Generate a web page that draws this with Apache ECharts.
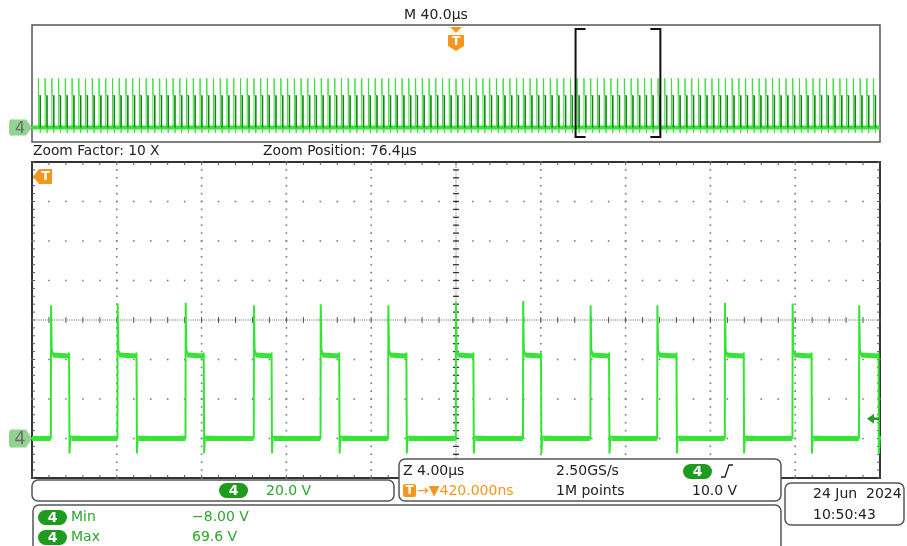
<!DOCTYPE html>
<html><head><meta charset="utf-8">
<script src="https://cdn.jsdelivr.net/npm/echarts@6/dist/echarts.min.js"></script>
<style>html,body{margin:0;padding:0;background:#fff}#c{width:907px;height:546px}</style>
</head><body><div id="c"></div>
<script>
// ---------- data ----------
const timebaseLabel = 'M 40.0µs';
const zoomFactorLabel = 'Zoom Factor: 10 X';
const zoomPositionLabel = 'Zoom Position: 76.4µs';
const zoomPositionUs = 76.4;
const zoomHalfWidthUs = 20;                       // 4 µs/div x 10 div
const mainTimeDivsUs = [-20,-16,-12,-8,-4,0,4,8,12,16,20];
const overviewTimeDivsUs = [-200,-160,-120,-80,-40,0,40,80,120,160,200];
const voltDivs = [-20,0,20,40,60,80,100,120,140]; // 20 V/div
const triggerLevelV = 10;

// zoomed window: pulse edges (µs relative to zoom position) and spike peaks (V)
const mainRiseUs = [-19.10,-15.96,-12.75,-9.53,-6.38,-3.19,0.00,3.17,6.35,9.50,12.69,15.88,19.02];
const mainFallUs = [-18.24,-15.06,-11.89,-8.69,-5.50,-2.33,0.83,4.02,7.23,10.41,13.58,16.78,19.94];
const mainPeakV  = [67.5,68.3,68.7,67.5,68.0,67.5,69.0,69.6,67.5,67.5,68.7,68.3,67.5];
const lowV = 0, postSpikeV = 45, plateauV = 41.8, fallBumpV = 43.5, undershootV = -7.6;

// overview: pulse train measured period / width
const overviewPeriodUs = 3.177;
const overviewPulseWidthUs = 0.87;
const overviewPeakV = 67;

// readouts
const scaleText = '20.0 V';
const horizText = 'Z 4.00µs', rateText = '2.50GS/s', trigText = '420.000ns', pointsText = '1M points', trigLevelText = '10.0 V';
const minText = '−8.00 V', maxText = '69.6 V';
const dateText = '24 Jun  2024', timeText = '10:50:43';

// ---------- build series ----------
const tStart = mainTimeDivsUs[0], tEnd = mainTimeDivsUs[mainTimeDivsUs.length - 1];
const mainTrace = [[tStart, lowV]];
const mainBand = [];
let lastLowStart = tStart;
mainRiseUs.forEach((r, i) => {
  const f = mainFallUs[i];
  mainTrace.push([r - 0.01, lowV], [r, mainPeakV[i]], [r + 0.03, postSpikeV], [r + 0.12, plateauV],
                 [f - 0.03, plateauV], [f - 0.01, fallBumpV], [f + 0.01, undershootV], [f + 0.05, lowV + 1], [f + 0.12, lowV]);
  mainBand.push([lastLowStart, lowV], [r - 0.02, lowV], [r, null], [r + 0.08, plateauV + 0.5], [f - 0.02, plateauV], [f, null]);
  lastLowStart = Math.min(f + 0.1, tEnd);
});
mainTrace.push([tEnd, lowV]);
mainBand.push([lastLowStart, lowV], [tEnd, lowV]);

const ovStart = overviewTimeDivsUs[0], ovEnd = overviewTimeDivsUs[overviewTimeDivsUs.length - 1];
const ovTrace = [[ovStart, lowV]];
const ovFall = [];
const kMin = Math.ceil(ovStart / overviewPeriodUs);
const kMax = Math.floor((ovEnd - overviewPulseWidthUs) / overviewPeriodUs);
for (let k = kMin; k <= kMax; k++) {
  const r = k * overviewPeriodUs, f = r + overviewPulseWidthUs;
  ovTrace.push([r, lowV], [r, overviewPeakV], [r + 0.05, postSpikeV], [f, plateauV], [f, undershootV], [f + 0.1, lowV]);
  ovFall.push([f, plateauV + 2], [f, lowV], [f, null]);
}
ovTrace.push([ovEnd, lowV]);
const ovBase = [[ovStart, lowV], [ovEnd, lowV]];

const GREEN = '#36e436', DARKGREEN = '#1c7d1c', PILL = '#1f9b1f', TXTGREEN = '#2aa62a', ORANGE = '#f5961e';
const FONT = '"DejaVu Sans", sans-serif';

function graticule(params, api) {
  const ch = [];
  const P = (t, v) => api.coord([t, v]);
  const dot = (p) => ch.push({type: 'rect', shape: {x: p[0] - 0.8, y: p[1] - 0.8, width: 1.6, height: 1.6}, style: {fill: '#7a7a7a'}});
  const seg = (x1, y1, x2, y2, c, w) => ch.push({type: 'line', shape: {x1, y1, x2, y2}, style: {stroke: c || '#555', lineWidth: w || 1}});
  const t0 = mainTimeDivsUs[0], t1 = mainTimeDivsUs[mainTimeDivsUs.length - 1];
  const v0 = voltDivs[0], v1 = voltDivs[voltDivs.length - 1];
  const minorT = (mainTimeDivsUs[1] - mainTimeDivsUs[0]) / 5;
  const minorV = (voltDivs[1] - voltDivs[0]) / 5;
  const cT = 0, cV = 60;
  mainTimeDivsUs.slice(1, -1).forEach(t => { if (t === cT) return; for (let v = v0; v <= v1 + 1e-6; v += minorV) dot(P(t, v)); });
  voltDivs.slice(1, -1).forEach(v => { if (v === cV) return; for (let t = t0; t <= t1 + 1e-6; t += minorT) dot(P(t, v)); });
  // center cross
  const a = P(t0, cV), b = P(t1, cV);
  ch.push({type: 'line', shape: {x1: a[0], y1: a[1], x2: b[0], y2: b[1]}, style: {stroke: '#666', lineWidth: 1, lineDash: [1, 1.2]}});
  const c = P(cT, v0), d = P(cT, v1);
  ch.push({type: 'line', shape: {x1: c[0], y1: c[1], x2: d[0], y2: d[1]}, style: {stroke: '#666', lineWidth: 1, lineDash: [1, 1.2]}});
  for (let t = t0; t <= t1 + 1e-6; t += minorT) {
    const p = P(t, cV); seg(p[0], p[1] - 3, p[0], p[1] + 3);
    const q = P(t, v1); seg(q[0], q[1], q[0], q[1] + 3);
    const r = P(t, v0); seg(r[0], r[1], r[0], r[1] - 3);
  }
  for (let v = v0; v <= v1 + 1e-6; v += minorV) {
    const p = P(cT, v); seg(p[0] - 3, p[1], p[0] + 3, p[1], '#333', 1.3);
    const q = P(t0, v); seg(q[0], q[1], q[0] + 3, q[1]);
    const r = P(t1, v); seg(r[0], r[1], r[0] - 3, r[1]);
  }
  return {type: 'group', children: ch};
}

const chart = echarts.init(document.getElementById('c'), null, {renderer: 'canvas'});
const hiddenAxis = {show: true, axisLine: {show: false}, axisTick: {show: false}, axisLabel: {show: false}, splitLine: {show: false}};
chart.setOption({
  animation: false,
  backgroundColor: '#fff',
  grid: [
    {left: 32, top: 25, width: 848, height: 117, show: true, borderColor: '#555', borderWidth: 1.5, backgroundColor: 'transparent'},
    {left: 32, top: 162, width: 848, height: 316, show: true, borderColor: '#333', borderWidth: 2, backgroundColor: 'transparent'}
  ],
  xAxis: [
    Object.assign({type: 'value', gridIndex: 0, min: ovStart, max: ovEnd, interval: 40}, hiddenAxis),
    Object.assign({type: 'value', gridIndex: 1, min: tStart, max: tEnd, interval: 4}, hiddenAxis)
  ],
  yAxis: [
    Object.assign({type: 'value', gridIndex: 0, min: voltDivs[0], max: voltDivs[voltDivs.length - 1], interval: 20}, hiddenAxis),
    Object.assign({type: 'value', gridIndex: 1, min: voltDivs[0], max: voltDivs[voltDivs.length - 1], interval: 20}, hiddenAxis)
  ],
  series: [
    {type: 'custom', xAxisIndex: 1, yAxisIndex: 1, data: [[0, 0]], renderItem: graticule, silent: true, z: 1, clip: false},
    {type: 'line', name: 'overviewBase', xAxisIndex: 0, yAxisIndex: 0, data: ovBase, showSymbol: false, symbol: 'none',
     lineStyle: {color: GREEN, width: 4}, z: 2, silent: true},
    {type: 'line', name: 'overview', xAxisIndex: 0, yAxisIndex: 0, data: ovTrace, showSymbol: false, symbol: 'none',
     lineStyle: {color: GREEN, width: 1}, z: 2, silent: true},
    {type: 'line', name: 'overviewFall', xAxisIndex: 0, yAxisIndex: 0, data: ovFall, showSymbol: false, symbol: 'none', connectNulls: false,
     lineStyle: {color: DARKGREEN, width: 1.5}, z: 3, silent: true},
    {type: 'line', name: 'CH4band', xAxisIndex: 1, yAxisIndex: 1, data: mainBand, showSymbol: false, symbol: 'none', connectNulls: false,
     lineStyle: {color: GREEN, width: 5}, z: 3, silent: true},
    {type: 'line', name: 'CH4', xAxisIndex: 1, yAxisIndex: 1, data: mainTrace, showSymbol: false, symbol: 'none',
     lineStyle: {color: GREEN, width: 2}, z: 3, silent: true}
  ]
});

// ---------- decorations positioned from the axes ----------
const ovX = t => chart.convertToPixel({xAxisIndex: 0}, t);
const ovY = v => chart.convertToPixel({yAxisIndex: 0}, v);
const mY = v => chart.convertToPixel({yAxisIndex: 1}, v);
const g = [];
const Z = 50;
const text = (x, y, s, opts) => g.push(Object.assign({type: 'text', z: Z, x, y, style: Object.assign({text: s, fill: '#222', font: '14px ' + FONT, verticalAlign: 'middle', textAlign: 'left'}, opts || {})}));
const rrect = (x, y, w, h, r) => g.push({type: 'rect', z: Z - 1, shape: {x, y, width: w, height: h, r}, style: {fill: '#fff', stroke: '#555', lineWidth: 1.5}});
const pill = (x, y) => { g.push({type: 'rect', z: Z, shape: {x, y, width: 29, height: 15, r: 7.5}, style: {fill: PILL}});
  text(x + 14.5, y + 8, '4', {fill: '#fff', font: 'bold 14px ' + FONT, textAlign: 'center'}); };
const poly = (pts, fill, z) => g.push({type: 'polygon', z: z || Z, shape: {points: pts}, style: {fill}});

// top texts
const tc = ovX(0);
text(tc - 52, 15, timebaseLabel, {font: '14px ' + FONT});
text(33, 151, zoomFactorLabel, {font: '13.8px ' + FONT});
text(263, 151, zoomPositionLabel, {font: '13.8px ' + FONT});

// overview trigger marker
poly([[tc - 6, 27], [tc + 6, 27], [tc, 33]], ORANGE);
poly([[tc - 8, 35], [tc + 8, 35], [tc + 8, 46], [tc, 51], [tc - 8, 46]], ORANGE);
text(tc, 42, 'T', {fill: '#fff', font: 'bold 12px ' + FONT, textAlign: 'center'});

// overview zoom bracket
const bl = ovX(zoomPositionUs - zoomHalfWidthUs), br = ovX(zoomPositionUs + zoomHalfWidthUs);
g.push({type: 'polyline', z: Z, shape: {points: [[bl + 10, 29], [bl, 29], [bl, 137], [bl + 10, 137]]}, style: {stroke: '#111', lineWidth: 2, fill: null}});
g.push({type: 'polyline', z: Z, shape: {points: [[br - 10, 29], [br, 29], [br, 137], [br - 10, 137]]}, style: {stroke: '#111', lineWidth: 2, fill: null}});

// ground markers
const gm = (yc, h, fs) => { poly([[11, yc - h], [26, yc - h], [32, yc], [26, yc + h], [11, yc + h]], '#8fd48f');
  g.push({type: 'rect', z: Z, shape: {x: 9, y: yc - h, width: 6, height: 2 * h, r: 3}, style: {fill: '#8fd48f'}});
  text(20, yc + 1, '4', {fill: '#6e6e6e', font: fs + 'px ' + FONT, textAlign: 'center'}); };
gm(ovY(lowV), 8, 16);
gm(mY(lowV), 9, 18);

// main trigger position marker (left, top)
poly([[33, 176.5], [39, 169], [52, 169], [52, 184], [39, 184]], ORANGE);
text(45.5, 177, 'T', {fill: '#fff', font: 'bold 13px ' + FONT, textAlign: 'center'});

// trigger level arrow (right)
const ty = mY(triggerLevelV);
poly([[867, ty], [874, ty - 5], [874, ty + 5]], '#2a9a2a');
g.push({type: 'rect', z: Z, shape: {x: 873, y: ty - 1.3, width: 6, height: 2.6}, style: {fill: '#2a9a2a'}});

// readout boxes
rrect(32, 480, 362, 21, 6);
pill(219, 483); text(266, 491, scaleText, {fill: TXTGREEN});

rrect(399, 459, 382, 42, 6);
text(403, 471, horizText);
text(556, 471, rateText);
pill(683, 464);
g.push({type: 'polyline', z: Z, shape: {points: [[721, 477], [725, 477], [729, 465], [733, 465]]}, style: {stroke: '#222', lineWidth: 1.3, fill: null}});
g.push({type: 'rect', z: Z, shape: {x: 403, y: 484, width: 13, height: 13, r: 2}, style: {fill: ORANGE}});
text(409.5, 491, 'T', {fill: '#fff', font: 'bold 12px ' + FONT, textAlign: 'center'});
text(417, 491, '→▼' + trigText, {fill: ORANGE});
text(556, 491, pointsText);
text(692, 491, trigLevelText);

rrect(33, 505, 748, 60, 6);
pill(38, 510); text(71, 517, 'Min', {fill: TXTGREEN});
pill(38, 530); text(71, 537, 'Max', {fill: TXTGREEN});
text(192, 517, minText, {fill: TXTGREEN});
text(192, 537, maxText, {fill: TXTGREEN});

rrect(785, 483, 119, 42, 6);
text(813, 494, dateText);
text(813, 515, timeText);

chart.setOption({graphic: g});
</script></body></html>
